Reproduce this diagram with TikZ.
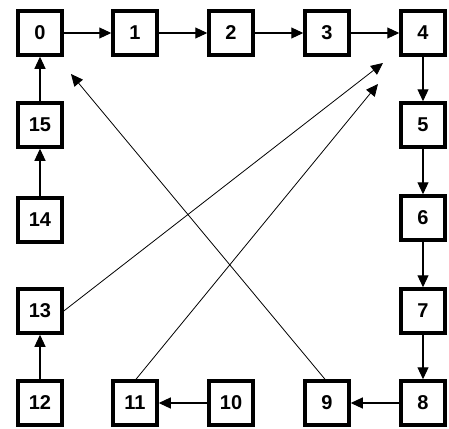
\documentclass[tikz,border=0pt]{standalone}
\usepackage{fontspec}
\setmainfont{Liberation Sans}
\usetikzlibrary{arrows.meta}
\begin{document}
\begin{tikzpicture}[x=1pt,y=-1pt,
  box/.style={draw=black,line width=3.5pt,minimum width=44pt,minimum height=44pt,inner sep=0pt,font=\fontsize{20}{20}\selectfont\bfseries},
  arr/.style={line width=1.1pt,-{Triangle[length=12pt,width=11pt]}},
  thin/.style={line width=0.8pt,-{Triangle[length=12pt,width=11pt]}}]
\useasboundingbox (0,0) rectangle (449,428);
\node[box] (n0) at (40,33) {0};
\node[box] (n1) at (135,33) {1};
\node[box] (n2) at (231,33) {2};
\node[box] (n3) at (327,33) {3};
\node[box] (n4) at (423,33) {4};
\node[box] (n5) at (423,125) {5};
\node[box] (n6) at (423,218) {6};
\node[box] (n7) at (423,311) {7};
\node[box] (n8) at (423,403) {8};
\node[box] (n9) at (327,403) {9};
\node[box] (n10) at (231,403) {10};
\node[box] (n11) at (135,403) {11};
\node[box] (n12) at (40,403) {12};
\node[box] (n13) at (40,311) {13};
\node[box] (n14) at (40,220) {14};
\node[box] (n15) at (40,125) {15};
\coordinate (t13) at (383,63);
\coordinate (t11) at (378,84);
\coordinate (t9) at (71,74);
\draw[arr] (n0) -- (n1);
\draw[arr] (n1) -- (n2);
\draw[arr] (n2) -- (n3);
\draw[arr] (n3) -- (n4);
\draw[arr] (n4) -- (n5);
\draw[arr] (n5) -- (n6);
\draw[arr] (n6) -- (n7);
\draw[arr] (n7) -- (n8);
\draw[arr] (n8) -- (n9);
\draw[arr] (n10) -- (n11);
\draw[arr] (n12) -- (n13);
\draw[arr] (n14) -- (n15);
\draw[arr] (n15) -- (n0);
\draw[thin] (n13.east) -- (t13);
\draw[thin] ([xshift=1pt]n11.north) -- (t11);
\draw[thin] ([xshift=-2pt]n9.north) -- (t9);
\end{tikzpicture}
\end{document}
